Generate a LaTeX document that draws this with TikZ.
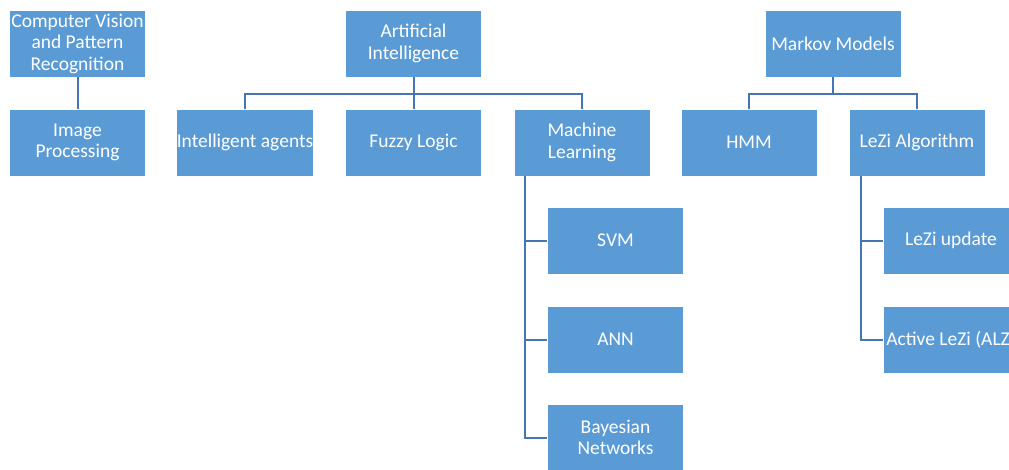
\documentclass[tikz,border=0pt]{standalone}
\usepackage{fontspec}
\setmainfont{Carlito}
\definecolor{boxblue}{HTML}{5B9BD5}
\definecolor{lineblue}{HTML}{4676B0}
\begin{document}
\begin{tikzpicture}[x=1pt,y=-1pt,
  box/.style={rectangle, fill=boxblue, draw=white, line width=0.8pt, minimum width=136pt, minimum height=67pt, inner sep=0pt, align=center, text=white, font=\fontsize{19.5}{21.5}\selectfont},
  conn/.style={draw=lineblue, line width=2pt}]
\useasboundingbox (0,0) rectangle (1009,469);
\clip (0,0) rectangle (1009,469);
\fill[white] (0,0) rectangle (1009,469);
% nodes
\node[box] (cv) at (77.5,43.5) {Computer Vision\\and Pattern\\Recognition};
\node[box] (ip) at (77.5,142.5) {Image\\Processing};
\node[box] (ai) at (413.5,43.5) {Artificial\\Intelligence};
\node[box] (ia) at (245,142.5) {Intelligent agents};
\node[box] (fl) at (413.5,142.5) {Fuzzy Logic};
\node[box] (ml) at (582,142.5) {Machine\\Learning};
\node[box] (mm) at (833,43.5) {Markov Models};
\node[box] (hmm) at (749,142.5) {HMM};
\node[box] (lz) at (917,142.5) {LeZi Algorithm};
\node[box] (svm) at (615.5,240.5) {SVM};
\node[box] (ann) at (615.5,339.5) {ANN};
\node[box] (bn) at (615.5,437.5) {Bayesian\\Networks};
\node[box] (lu) at (951,240.5) {LeZi update};
\node[box] (alz) at (951,339.5) {Active LeZi (ALZ)};
% connectors
\draw[conn] (cv.south) -- (ip.north);
\draw[conn] (ai.south) -- ++(0,16.5) -| (ia.north);
\draw[conn] (ai.south) -- (fl.north);
\draw[conn] (ai.south) -- ++(0,16.5) -| (ml.north);
\draw[conn] (mm.south) -- ++(0,16.5) -| (hmm.north);
\draw[conn] (mm.south) -- ++(0,16.5) -| (lz.north);
\draw[conn] (ml.south west) ++(11.5,0) |- (svm.west);
\draw[conn] (ml.south west) ++(11.5,0) |- (ann.west);
\draw[conn] (ml.south west) ++(11.5,0) |- (bn.west);
\draw[conn] (lz.south west) ++(12.5,0) |- (lu.west);
\draw[conn] (lz.south west) ++(12.5,0) |- (alz.west);
\end{tikzpicture}
\end{document}
